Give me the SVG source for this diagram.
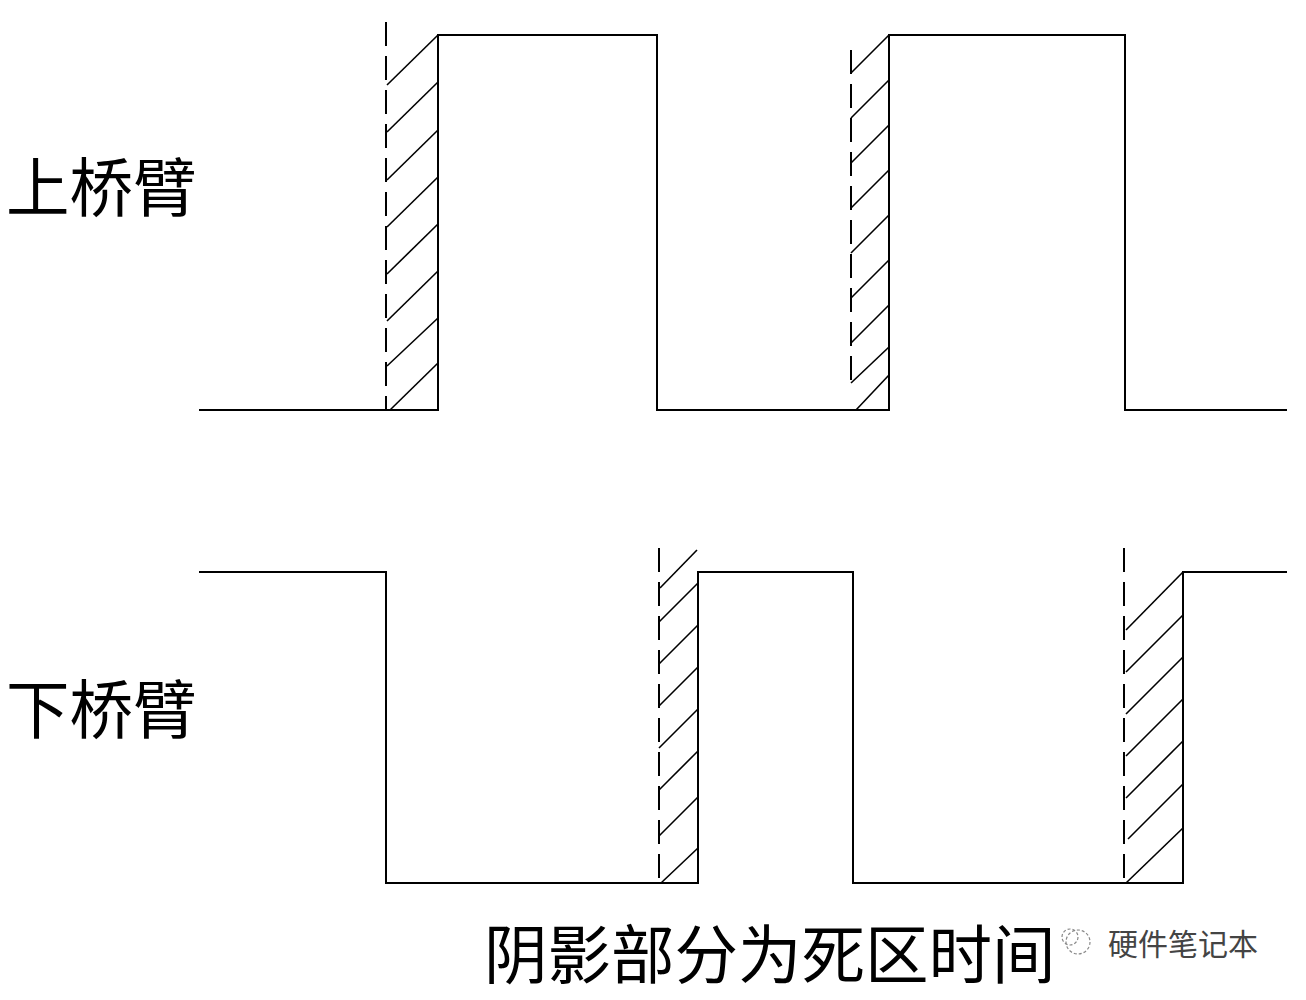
<svg xmlns="http://www.w3.org/2000/svg" width="1306" height="1000" viewBox="0 0 1306 1000">
<style>
.w{fill:none;stroke:#000;stroke-width:2;stroke-linejoin:miter}
.d{fill:none;stroke:#000;stroke-width:2;stroke-dasharray:24 10}
.h{fill:none;stroke:#000;stroke-width:1.6}
.t{font-family:"Noto Sans CJK SC","Noto Sans CJK JP",sans-serif;fill:#000}
.wm{font-family:"Noto Sans CJK SC",sans-serif;fill:#444}
</style>
<rect width="1306" height="1000" fill="#fff"/>
<g id="label-upper"><text class="t" x="6" y="211" font-size="63.5">上桥臂</text></g>
<g id="label-lower"><text class="t" x="6" y="733" font-size="63.5">下桥臂</text></g>
<g id="caption"><text class="t" x="484" y="978" font-size="63.5">阴影部分为死区时间</text></g>
<g id="watermark">
<circle cx="1078" cy="942" r="12" fill="none" stroke="#888" stroke-width="1.2" stroke-dasharray="3 2"/>
<circle cx="1070" cy="937" r="8" fill="none" stroke="#888" stroke-width="1.2" stroke-dasharray="3 2"/>
<text class="wm" x="1108" y="955" font-size="30">硬件笔记本</text>
</g>
<g id="connectors">
<g id="upper-wave">
<polyline class="w" points="199,410 438,410 438,35 657,35 657,410 889,410 889,35 1125,35 1125,410 1287,410"/>
<line class="d" x1="386" y1="22" x2="386" y2="410"/>
<line class="d" x1="851" y1="50" x2="851" y2="390"/>
</g>
<g id="upper-hatch-1">
<line class="h" x1="387" y1="85" x2="438" y2="35"/>
<line class="h" x1="387" y1="132" x2="438" y2="82"/>
<line class="h" x1="387" y1="180" x2="438" y2="130"/>
<line class="h" x1="387" y1="227" x2="438" y2="177"/>
<line class="h" x1="387" y1="274" x2="438" y2="224"/>
<line class="h" x1="387" y1="321" x2="438" y2="271"/>
<line class="h" x1="387" y1="366" x2="438" y2="318"/>
<line class="h" x1="390" y1="410" x2="438" y2="363"/>
</g>
<g id="upper-hatch-2">
<line class="h" x1="851" y1="73" x2="889" y2="35"/>
<line class="h" x1="851" y1="118" x2="889" y2="80"/>
<line class="h" x1="851" y1="163" x2="889" y2="125"/>
<line class="h" x1="851" y1="208" x2="889" y2="170"/>
<line class="h" x1="851" y1="253" x2="889" y2="215"/>
<line class="h" x1="851" y1="298" x2="889" y2="260"/>
<line class="h" x1="851" y1="343" x2="889" y2="305"/>
<line class="h" x1="851" y1="383" x2="889" y2="347"/>
<line class="h" x1="856" y1="410" x2="889" y2="375"/>
</g>
<g id="lower-wave">
<polyline class="w" points="199,572 386,572 386,883 698,883 698,572 853,572 853,883 1183,883 1183,572 1287,572"/>
<line class="d" x1="659" y1="548" x2="659" y2="883"/>
<line class="d" x1="1124" y1="548" x2="1124" y2="883"/>
</g>
<g id="lower-hatch-1">
<line class="h" x1="660" y1="588" x2="697" y2="550"/>
<line class="h" x1="659" y1="622" x2="698" y2="583"/>
<line class="h" x1="659" y1="664" x2="698" y2="625"/>
<line class="h" x1="659" y1="706" x2="698" y2="667"/>
<line class="h" x1="659" y1="748" x2="698" y2="709"/>
<line class="h" x1="659" y1="790" x2="698" y2="751"/>
<line class="h" x1="659" y1="836" x2="698" y2="797"/>
<line class="h" x1="661" y1="883" x2="698" y2="848"/>
</g>
<g id="lower-hatch-2">
<line class="h" x1="1126" y1="630" x2="1183" y2="572"/>
<line class="h" x1="1126" y1="672" x2="1183" y2="615"/>
<line class="h" x1="1126" y1="714" x2="1183" y2="657"/>
<line class="h" x1="1126" y1="756" x2="1183" y2="699"/>
<line class="h" x1="1126" y1="798" x2="1183" y2="741"/>
<line class="h" x1="1128" y1="839" x2="1183" y2="784"/>
<line class="h" x1="1126" y1="883" x2="1183" y2="828"/>
</g>
</g>
</svg>
